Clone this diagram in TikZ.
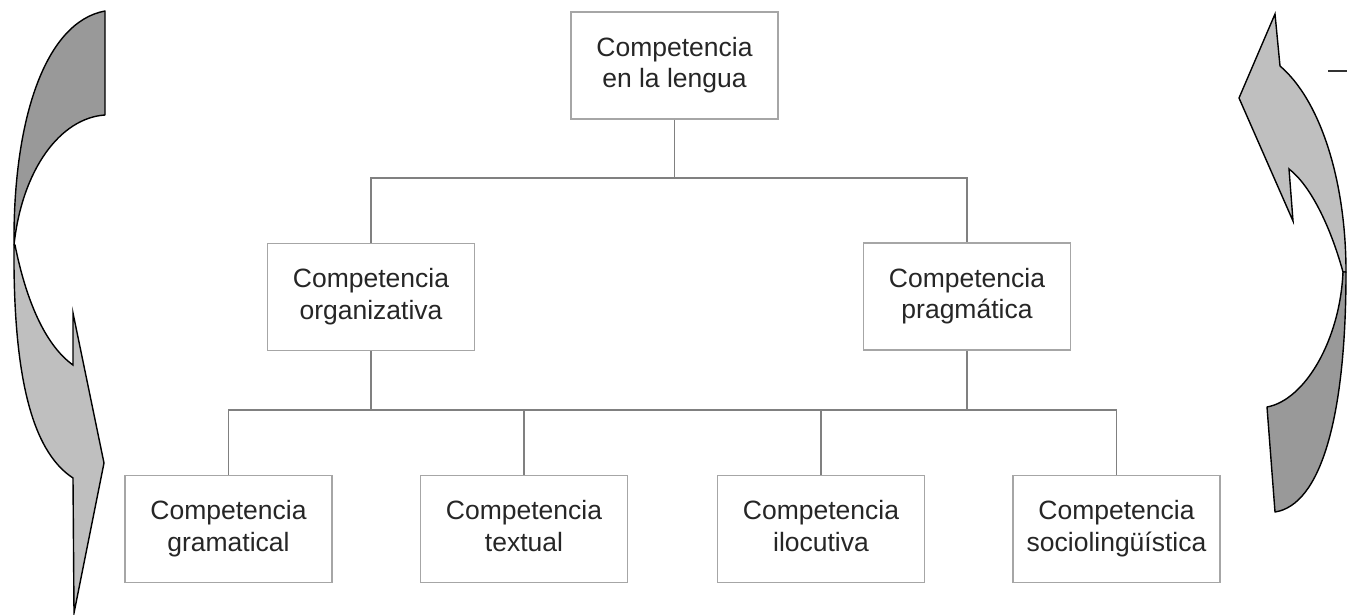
\documentclass[tikz,border=0pt]{standalone}
\usepackage{fontspec}
\setmainfont{Liberation Sans}
\newcommand{\twolines}[2]{\strut #1\\\strut #2}
\begin{document}
\begin{tikzpicture}[x=1pt,y=-1pt,
  box/.style={draw=black!35,line width=1.3pt,fill=white,minimum width=207pt,minimum height=107pt,
    align=center,inner sep=0pt,text=black!85,font=\fontsize{26.5}{31.5}\selectfont},
  conn/.style={draw=black!50,line width=1.4pt},
  darkpart/.style={fill=black!40,draw=black,line width=1.4pt,line join=round},
  lightpart/.style={fill=black!25,draw=black,line width=1.4pt,line join=miter}]
\useasboundingbox (0,0) rectangle (1347,615);

% left curved arrow
\path[darkpart] (105,11) .. controls (45,22) and (13,120) .. (14,245)
  .. controls (22,170) and (60,118) .. (105,115) -- cycle;
\path[lightpart] (15,245) .. controls (26,300) and (45,345) .. (73,365)
  -- (73,313) -- (104,463) -- (74,613) -- (73,478)
  .. controls (30,450) and (13,370) .. (14,245) -- cycle;

% right curved arrow
\path[lightpart] (1343,272) .. controls (1330,225) and (1310,185) .. (1289,169)
  -- (1293,221) -- (1239,98) -- (1275,14) -- (1280,66)
  .. controls (1320,100) and (1346,180) .. (1346,272) -- cycle;
\path[darkpart] (1346,272) .. controls (1346,420) and (1320,505) .. (1275,512)
  -- (1267,407) .. controls (1305,400) and (1340,340) .. (1343,272) -- cycle;
\draw[black!80,line width=1.2pt] (1328,71) -- (1347,71);

% boxes
\node[box] (top) at (674.5,65.5) {\twolines{Competencia}{en la lengua}};
\node[box] (org) at (371,297) {\twolines{Competencia}{organizativa}};
\node[box] (prag) at (967,296.5) {\twolines{Competencia}{pragmática}};
\node[box] (gram) at (228.5,529) {\twolines{Competencia}{gramatical}};
\node[box] (text) at (524,529) {\twolines{Competencia}{textual}};
\node[box] (ilo) at (821,529) {\twolines{Competencia}{ilocutiva}};
\node[box] (soc) at (1116.5,529) {\twolines{Competencia}{sociolingüística}};

\coordinate (h1) at (674.5,178);
\coordinate (h2) at (371,410);
\coordinate (h3) at (967,410);

\draw[conn] (top.south) -- (h1) -| (org.north);
\draw[conn] (h1) -| (prag.north);
\draw[conn] (org.south) -- (h2);
\draw[conn] (prag.south) -- (h3);
\draw[conn] (gram.north) |- (h2) -- (h3) -| (soc.north);
\draw[conn] (h2) -| (text.north);
\draw[conn] (h3) -| (ilo.north);
\end{tikzpicture}
\end{document}
